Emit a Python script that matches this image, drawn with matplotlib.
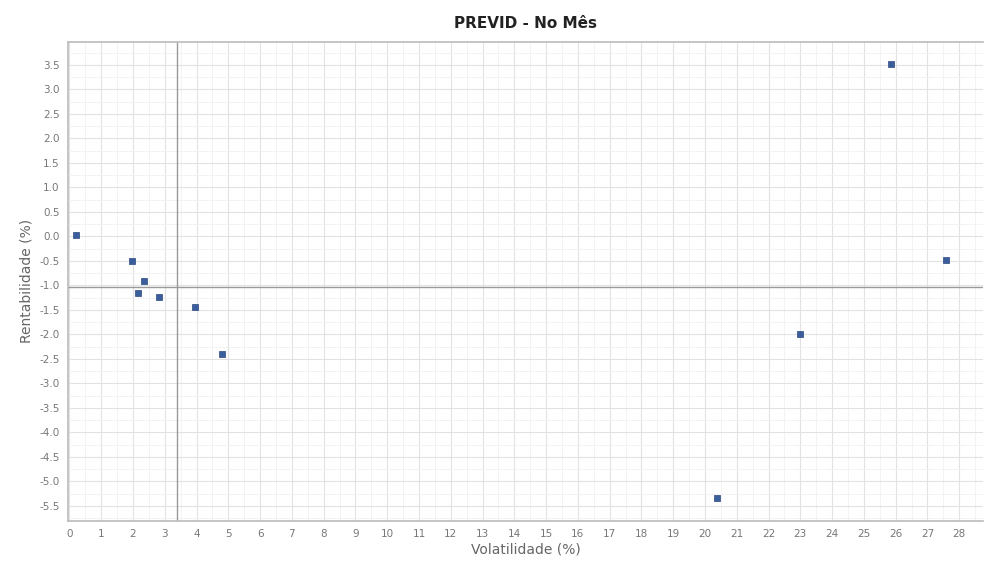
import numpy as np
import matplotlib.pyplot as plt
from matplotlib.ticker import MultipleLocator

# Volatility (x) and return (y) of each fund, in %
volatilidade = [0.19, 1.97, 2.35, 2.16, 2.82, 3.95, 4.80, 20.38, 22.98, 25.86, 27.59]
rentabilidade = [0.03, -0.50, -0.91, -1.15, -1.23, -1.44, -2.40, -5.34, -1.99, 3.52, -0.48]

# Crosshair reference lines
ref_x = 3.39
ref_y = -1.03

fig = plt.figure(figsize=(9.84, 5.64), dpi=100)
ax = fig.add_axes([0.069, 0.076, 0.93, 0.85])

ax.set_xlim(-0.05, 28.75)
ax.set_ylim(-5.81, 3.97)

ax.xaxis.set_major_locator(MultipleLocator(1))
ax.yaxis.set_major_locator(MultipleLocator(0.5))
ax.xaxis.set_minor_locator(MultipleLocator(0.5))
ax.yaxis.set_minor_locator(MultipleLocator(0.25))
ax.grid(True, which='major', color='#e2e2e2', linewidth=0.8)
ax.grid(True, which='minor', color='#f1f1f1', linewidth=0.6)
ax.set_axisbelow(True)

ax.axvline(ref_x, color='#999999', linewidth=1.0)
ax.axhline(ref_y, color='#999999', linewidth=1.0)

ax.scatter(volatilidade, rentabilidade, marker='s', s=22, color='#3a5e9c',
           edgecolors='#2b4a80', linewidths=0.5, zorder=3)

ax.yaxis.set_major_formatter(plt.FuncFormatter(lambda v, p: f"{v:.1f}"))
ax.tick_params(axis='both', which='both', length=0, labelsize=7.5, colors='#777777')
ax.tick_params(axis='both', which='minor', length=0)
ax.tick_params(axis='x', pad=6)
ax.tick_params(axis='y', pad=6)

for name, sp in ax.spines.items():
    sp.set_color('#bbbbbb')
    sp.set_linewidth(1.2)
ax.spines['right'].set_visible(False)

ax.set_xlabel('Volatilidade (%)', fontsize=10, color='#666666', labelpad=2)
ax.set_ylabel('Rentabilidade (%)', fontsize=10, color='#666666', labelpad=4)
ax.set_title('PREVID - No Mês', fontsize=11, fontweight='bold', color='#222222', pad=10)

fig.savefig('out.png', dpi=100)
